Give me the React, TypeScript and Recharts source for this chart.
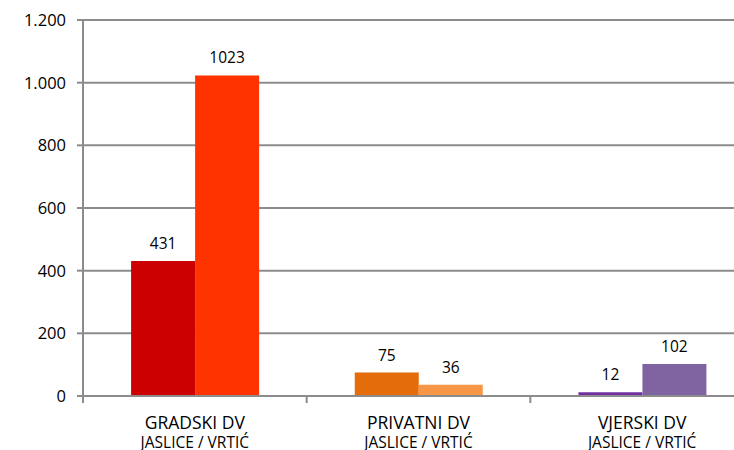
import React from 'react';
import { BarChart, Bar, XAxis, YAxis, CartesianGrid, Cell, LabelList } from 'recharts';

const categories = ['GRADSKI DV', 'PRIVATNI DV', 'VJERSKI DV'];
const subLabels = ['JASLICE / VRTIĆ', 'JASLICE / VRTIĆ', 'JASLICE / VRTIĆ'];
const jaslice = [431, 75, 12];
const vrtic = [1023, 36, 102];
const jasliceColors = ['#CC0000', '#E46C0A', '#7030A0'];
const vrticColors = ['#FF3300', '#F79646', '#8064A2'];
const yTicks = [0, 200, 400, 600, 800, 1000, 1200];

const data = categories.map((c, i) => ({ name: c, sub: subLabels[i], jaslice: jaslice[i], vrtic: vrtic[i] }));

const FONT = '"Open Sans", sans-serif';
const AXIS = '#8c8c8c';

const fmt = (v: number) => v.toString().replace(/\B(?=(\d{3})+(?!\d))/g, '.');

// category label in two lines, plus tick marks on the category boundaries
const CatTick = (props: any) => {
  const { x, y, payload, index } = props;
  const half = payload.offset || 0;
  const i = index ?? categories.indexOf(payload.value);
  return (
    <g>
      {i === 0 && <line x1={x - half} x2={x - half} y1={y - 8} y2={y - 1} stroke={AXIS} strokeWidth={2} />}
      <line x1={x + half} x2={x + half} y1={y - 8} y2={y - 1} stroke={AXIS} strokeWidth={2} />
      <text x={x} y={y + 25} textAnchor="middle" fontFamily={FONT} fontSize={17.5} fill="#000">
        {payload.value}
      </text>
      <text x={x} y={y + 44} textAnchor="middle" fontFamily={FONT} fontSize={15.5} fill="#000">
        {subLabels[i]}
      </text>
    </g>
  );
};

export default function App() {
  return (
    <div style={{ position: 'absolute', left: 0, top: 0, width: 734, height: 450, overflow: 'hidden', background: '#fff' }}>
      <BarChart width={760} height={450} data={data} margin={{ top: 20, right: 6, left: 0, bottom: 0 }} barGap={0} barCategoryGap="21.5%">
        <CartesianGrid horizontal vertical={false} stroke={AXIS} strokeWidth={2} />
        <XAxis
          dataKey="name"
          height={54}
          interval={0}
          stroke={AXIS}
          strokeWidth={2}
          tickLine={false}
          tick={<CatTick />}
        />
        <YAxis
          domain={[0, 1200]}
          ticks={yTicks}
          width={83}
          stroke={AXIS}
          strokeWidth={2}
          tickSize={6}
          tickMargin={11}
          tickFormatter={fmt}
          tick={{ fontFamily: FONT, fontSize: 16.5, fill: '#000' }}
        />
        <Bar dataKey="jaslice" isAnimationActive={false}>
          {data.map((_, i) => (
            <Cell key={`j-${i}`} fill={jasliceColors[i]} />
          ))}
          <LabelList dataKey="jaslice" position="top" offset={12} style={{ fontFamily: FONT, fontSize: 15.5, fill: '#000' }} />
        </Bar>
        <Bar dataKey="vrtic" isAnimationActive={false}>
          {data.map((_, i) => (
            <Cell key={`v-${i}`} fill={vrticColors[i]} />
          ))}
          <LabelList dataKey="vrtic" position="top" offset={12} style={{ fontFamily: FONT, fontSize: 15.5, fill: '#000' }} />
        </Bar>
      </BarChart>
    </div>
  );
}
